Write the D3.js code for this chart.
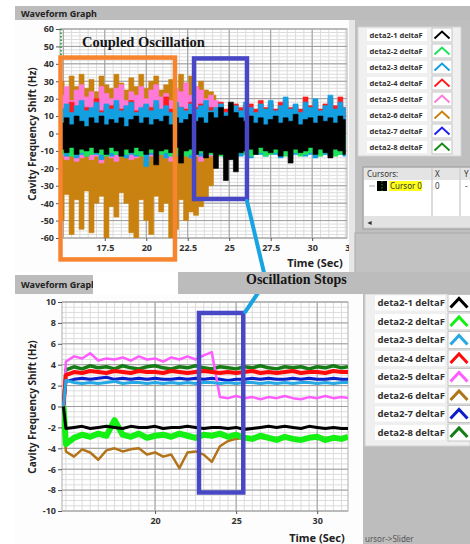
<!DOCTYPE html>
<html>
<head>
<meta charset="utf-8">
<script src="https://cdn.jsdelivr.net/npm/d3@7"></script>
<style>
  body { margin: 0; background: #fff; }
  svg { display: block; }
  text { font-family: "Noto Sans", sans-serif; }
</style>
</head>
<body>
<svg id="chart" width="470" height="544"></svg>
<script>
const legendNames = ["deta2-1 deltaF", "deta2-2 deltaF", "deta2-3 deltaF", "deta2-4 deltaF",
  "deta2-5 deltaF", "deta2-6 deltaF", "deta2-7 deltaF", "deta2-8 deltaF"];
const topColors = ["#000000", "#1ee35a", "#12a0e2", "#ff1c1c", "#ff7ad8", "#c9820f", "#2020f0", "#168c16"];
const botColors = ["#000000", "#14f014", "#26a8e4", "#ff0a0a", "#ff5cff", "#b2741a", "#0c1ec8", "#167c16"];

// upper graph: sample times and band envelopes (max / min of each trace)
const topTime = d3.range(14.9, 32.05, 0.3);
const topBlackHi = [6, 9, 5, 10, 7, 4, 9, 6, 10, 5, 8, 6, 9, 4, 8, 10, 6, 9, 5, 8, 7, 10, 5, 9, 6, 8, 11, 7, 9, 6,
  12, 9, 15, 10, 18, 12, 9, 7, 10, 6, 9, 5, 8, 10, 6, 9, 7, 11, 5, 8, 9, 6, 10, 7, 9, 6, 10, 8];
const topBlackLo = [-9, -11, -8, -12, -9, -10, -8, -11, -9, -12, -8, -10, -13, -9, -11, -8, -10, -12, -9, -18,
  -10, -9, -11, -8, -17, -10, -9, -12, -10, -14, -11, -20, -12, -27, -15, -22, -11, -10, -9, -12,
  -8, -10, -11, -9, -13, -10, -17, -9, -11, -10, -8, -12, -9, -11, -14, -9, -10, -12];
const topGreenLo = [-12, -11, -13, -12, -11, -13, -12, -11, -12, -13, -11, -12, -13, -12, -11, -12, -13, -12, -11, -12,
  -12, -11, -13, -12, -11, -13, -12, -12, -11, -13, -12, -11, -13, -12, -13, -12, -11, -12, -13, -12,
  -11, -13, -12, -11, -12, -13, -12, -11, -13, -12, -11, -12, -13, -11, -12, -13, -12, -11];
const topCyanHi = [14, 17, 12, 16, 19, 13, 15, 18, 12, 17, 14, 19, 13, 16, 18, 12, 15, 17, 13, 19,
  14, 16, 12, 18, 15, 13, 17, 14, 16, 19, 13, 15, 17, 12, 14, 16, 13, 18, 15, 12,
  17, 14, 19, 13, 16, 21, 14, 17, 12, 18, 15, 20, 13, 16, 22, 14, 18, 15];
const topCyanLo = [-12, -13, -12, -14, -12, -13, -12, -12, -15, -12, -13, -12, -12, -14, -12, -13, -12, -19, -12, -13,
  -12, -14, -12, -13, -12, -12, -14, -12, -13, -12, -12, -13, -12, -14, -12, -12, -13, -12, -14, -12,
  -12, -13, -12, -12, -14, -12, -13, -12, -12, -13, -12, -14, -12, -12, -13, -12, -12, -13];
const topRedHi = [13, 15, 18, 14, 16, 15, 14, 20, 13, 15, 16, 17, 14, 15, 19, 13, 14, 16, 15, 17,
  13, 21, 14, 16, 15, 14, 18, 15, 17, 16, 15, 14, 18, 14, 15, 17, 15, 16, 17, 14,
  19, 15, 17, 14, 18, 19, 15, 16, 14, 21, 16, 18, 14, 17, 20, 16, 21, 15];
const topPinkHi = [22, 27, 19, 25, 28, 21, 24, 18, 27, 23, 20, 26, 28, 19, 24, 22, 27, 20, 25, 28,
  21, 23, 19, 26, 24, 29, 22, 27, 25, 20, 22, 19, 18];
const topPinkLo = [-13, -15, -12, -16, -14, -12, -15, -13, -17, -12, -14, -16, -13, -12, -15, -14, -12, -16, -13, -15,
  -12, -14, -16, -13, -15, -12, -14, -13, -16, -12, -13, -12, -12];
const topBrownHi = [30, 25, 33, 27, 34, 26, 31, 24, 33, 28, 26, 34, 29, 25, 32, 27, 34, 26, 30, 33,
  25, 28, 31, 26, 34, 29, 33, 27, 30, 25, 24, 22];
const topBrownLo = [-50, -35, -58, -38, -55, -33, -57, -40, -36, -60, -42, -48, -34, -40, -57, -60, -38, -50, -58, -36,
  -45, -40, -60, -55, -38, -50, -45, -47, -42, -38, -30, -20];

// lower graph: sample times and trace values
const botTime = [14.35].concat(d3.range(14.5, 31.6, 0.5), [31.9]);
const bot1 = [0, -2.1, -2.0, -1.9, -2.1, -2.0, -1.9, -2.0, -2.1, -1.9, -2.0, -2.0, -1.9, -2.1, -2.0, -2.0, -1.9, -2.0, -2.1,
  -2.0, -2.0, -2.1, -2.0, -2.2, -2.1, -2.0, -1.9, -2.0, -1.9, -2.0, -2.1, -1.9, -2.0, -2.1, -2.0, -2.1, -2.1];
const bot2 = [0, -3.6, -3.0, -2.7, -2.9, -2.6, -2.8, -1.3, -2.7, -2.9, -2.6, -3.0, -2.8, -2.7, -2.9, -2.6, -2.8, -3.0, -2.7,
  -2.8, -2.6, -2.9, -2.7, -3.0, -3.1, -2.8, -3.0, -3.2, -2.9, -3.1, -3.2, -3.0, -2.9, -3.2, -3.0, -3.1, -2.9];
const bot3 = [0, 2.5, 2.3, 2.2, 2.3, 2.2, 2.3, 2.4, 2.2, 2.3, 2.3, 2.2, 2.3, 2.2, 2.3, 2.2, 2.3, 2.2, 2.3,
  2.3, 2.2, 2.3, 2.2, 2.3, 2.3, 2.2, 2.3, 2.2, 2.3, 2.2, 2.3, 2.3, 2.2, 2.3, 2.2, 2.3, 2.3];
const bot4 = [0, 3.0, 3.3, 3.2, 3.4, 3.3, 3.2, 3.4, 3.3, 3.2, 3.4, 3.3, 3.3, 3.2, 3.4, 3.3, 3.2, 3.3, 3.4,
  3.3, 3.2, 3.3, 3.2, 3.3, 3.4, 3.2, 3.3, 3.2, 3.3, 3.4, 3.2, 3.3, 3.3, 3.2, 3.4, 3.3, 3.3];
const bot5 = [0, 4.3, 4.8, 4.6, 5.1, 4.4, 4.6, 4.5, 4.7, 4.4, 4.8, 4.5, 4.6, 4.3, 4.7, 4.5, 4.8, 4.5, 4.9,
  5.2, 0.9, 0.8, 1.0, 0.8, 0.9, 0.7, 0.9, 0.8, 1.0, 0.8, 0.7, 0.9, 0.8, 1.0, 0.8, 0.9, 0.8];
const bot6 = [0, -4.3, -4.8, -4.1, -4.4, -5.1, -4.2, -4.0, -4.3, -4.1, -4.0, -4.6, -4.4, -4.8, -4.6, -5.9, -4.4, -4.3, -4.6,
  -5.3, -3.8, -3.3, -3.1, -3.0, -3.1, -3.0, -3.1, -3.0, -3.1, -3.0, -3.1, -3.0, -3.1, -3.0, -3.1, -3.0, -3.0];
const bot7 = [0, 2.4, 2.6, 2.7, 2.6, 2.7, 2.8, 2.6, 2.7, 2.6, 2.7, 2.6, 2.7, 2.6, 2.6, 2.7, 2.6, 2.7, 2.6,
  2.7, 2.6, 2.5, 2.6, 2.6, 2.7, 2.6, 2.7, 2.6, 2.6, 2.7, 2.6, 2.7, 2.6, 2.6, 2.7, 2.6, 2.6];
const bot8 = [0, 3.5, 3.8, 3.6, 3.9, 3.7, 3.8, 3.6, 3.9, 3.7, 3.6, 3.8, 3.9, 3.7, 3.6, 3.8, 3.7, 3.9, 3.7,
  3.6, 3.8, 3.7, 3.6, 3.8, 3.7, 3.9, 3.7, 3.6, 3.8, 3.7, 3.8, 3.6, 3.8, 3.7, 3.9, 3.7, 3.8];

const topYTicks = d3.range(-60, 61, 10);
const topXTicks = [17.5, 20, 22.5, 25, 27.5, 30, 32.5];
const botYTicks = d3.range(-10, 11, 2);
const botXTicks = [20, 25, 30];

// annotation boxes in data units
const coupledBox = { t0: 14.83, t1: 21.73, v0: -72.3, v1: 43.6 };
const topStopBox = { t0: 22.88, t1: 26.07, v0: -37.6, v1: 43.1 };
const botStopBox = { t0: 22.71, t1: 25.44, v0: -8.23, v1: 8.95 };

const svg = d3.select("#chart");
const FONT = "'Noto Sans', sans-serif";

const xTop = d3.scaleLinear().domain([14.8, 32.1]).range([60, 347]);
const yTop = d3.scaleLinear().domain([-60, 60]).range([238, 29]);
const xBot = d3.scaleLinear().domain([14.26, 31.9]).range([62, 348]);
const yBot = d3.scaleLinear().domain([-10, 10]).range([511, 302]);

// ---------- panel backgrounds ----------
svg.append("rect").attr("width", 470).attr("height", 544).attr("fill", "#fff");
svg.append("rect").attr("x", 15).attr("y", 6).attr("width", 455).attr("height", 14).attr("fill", "#bcbcbc");
svg.append("text").attr("x", 21).attr("y", 16.5).text("Waveform Graph")
  .attr("font-size", 9).attr("font-weight", 700).attr("fill", "#222");
svg.append("rect").attr("x", 355).attr("y", 20).attr("width", 115).attr("height", 252).attr("fill", "#bfbfbf");
svg.append("rect").attr("x", 15).attr("y", 20).attr("width", 340).attr("height", 252).attr("fill", "#fdfdfd");
svg.append("rect").attr("x", 349).attr("y", 20).attr("width", 6).attr("height", 252).attr("fill", "#e6e6e6");

svg.append("rect").attr("x", 15).attr("y", 294).attr("width", 348).attr("height", 250).attr("fill", "#fdfdfd");
svg.append("rect").attr("x", 363).attr("y", 294).attr("width", 107).attr("height", 250).attr("fill", "#bdbdbd");
svg.append("rect").attr("x", 365).attr("y", 294).attr("width", 105).attr("height", 152)
  .attr("fill", "#efefef").attr("stroke", "#d2d2d2");
svg.append("text").attr("x", 365).attr("y", 542).text("ursor->Slider")
  .attr("font-size", 8).attr("fill", "#555");

// ---------- grids ----------
function drawGrid(x, y, xMinor, yMinor, xMajor, yMajor) {
  const g = svg.append("g");
  const [x0, x1] = x.range();
  const [y0, y1] = y.range();
  g.append("rect").attr("x", x0).attr("y", y1).attr("width", x1 - x0).attr("height", y0 - y1).attr("fill", "#fff");
  g.selectAll(".mx").data(xMinor).join("line")
    .attr("x1", d => x(d)).attr("x2", d => x(d)).attr("y1", y1).attr("y2", y0)
    .attr("stroke", "#dcdcdc").attr("stroke-width", 1);
  g.selectAll(".my").data(yMinor).join("line")
    .attr("x1", x0).attr("x2", x1).attr("y1", d => y(d)).attr("y2", d => y(d))
    .attr("stroke", "#dcdcdc").attr("stroke-width", 1);
  g.selectAll(".Mx").data(xMajor).join("line")
    .attr("x1", d => x(d)).attr("x2", d => x(d)).attr("y1", y1).attr("y2", y0)
    .attr("stroke", "#9c9c9c").attr("stroke-width", 1);
  g.selectAll(".My").data(yMajor).join("line")
    .attr("x1", x0).attr("x2", x1).attr("y1", d => y(d)).attr("y2", d => y(d))
    .attr("stroke", "#9c9c9c").attr("stroke-width", 1);
  g.append("rect").attr("x", x0).attr("y", y1).attr("width", x1 - x0).attr("height", y0 - y1)
    .attr("fill", "none").attr("stroke", "#b0b0b0");
}
drawGrid(xTop, yTop, d3.range(15, 32.1, 0.5), d3.range(-60, 61, 2), [15, 17.5, 20, 22.5, 25, 27.5, 30], topYTicks);
drawGrid(xBot, yBot, d3.range(14.5, 32, 0.5), d3.range(-10, 10.1, 0.5), botXTicks, botYTicks);

function clip(id, x, y, w, h) {
  svg.append("clipPath").attr("id", id).append("rect")
    .attr("x", x).attr("y", y).attr("width", w).attr("height", h);
  return `url(#${id})`;
}

// ---------- upper graph traces ----------
const topBands = [
  { s: 5, hi: topBrownHi, lo: topBrownLo },
  { s: 4, hi: topPinkHi, lo: topPinkLo },
  { s: 3, hi: topRedHi, lo: null },
  { s: 2, hi: topCyanHi, lo: topCyanLo },
  { s: 1, hi: null, lo: topGreenLo },
  { s: 0, hi: topBlackHi, lo: topBlackLo }
];
const topPlot = svg.append("g").attr("clip-path", clip("clipTop", 60, 29, 287, 209));
topPlot.append("line").attr("x1", 61).attr("x2", 61).attr("y1", 29).attr("y2", 238)
  .attr("stroke", "#1a9a2a").attr("stroke-width", 1.6).attr("stroke-dasharray", "1.5,2");
const area = d3.area().curve(d3.curveStep)
  .x(d => xTop(d.t)).y0(d => yTop(d.lo)).y1(d => yTop(d.hi));
topBands.forEach(b => {
  const ref = b.hi || b.lo;
  const pts = ref.map((_, i) => ({ t: topTime[i], hi: b.hi ? b.hi[i] : 0, lo: b.lo ? b.lo[i] : 0 }));
  topPlot.append("path").datum(pts).attr("d", area).attr("fill", topColors[b.s])
    .attr("stroke", topColors[b.s]).attr("stroke-width", 0.6);
});

// ---------- lower graph traces ----------
const botSeries = [bot1, bot2, bot3, bot4, bot5, bot6, bot7, bot8];
const botWidth = [3, 6, 3, 4, 2.5, 2.5, 3, 3.5];
const botPlot = svg.append("g").attr("clip-path", clip("clipBot", 62, 302, 286, 209));
const line = d3.line().x((d, i) => xBot(botTime[i])).y(d => yBot(d));
[7, 6, 5, 4, 3, 2, 1, 0].forEach(s => {
  botPlot.append("path").datum(botSeries[s]).attr("d", line).attr("fill", "none")
    .attr("stroke", botColors[s]).attr("stroke-width", botWidth[s]).attr("stroke-linejoin", "round");
});

// ---------- axes ----------
function styleAxis(g) {
  g.attr("font-family", FONT).attr("font-size", 9).attr("font-weight", 700);
  g.select(".domain").remove();
  g.selectAll("line").attr("stroke", "#555");
  g.selectAll("text").attr("fill", "#333");
}
const plain = d => String(d);
svg.append("g").attr("transform", "translate(60,0)")
  .call(d3.axisLeft(yTop).tickValues(topYTicks).tickFormat(plain).tickSize(4).tickPadding(2)).call(styleAxis);
svg.append("g").attr("transform", "translate(0,238)").attr("clip-path", clip("clipTopX", 0, -5, 349, 30))
  .call(d3.axisBottom(xTop).tickValues(topXTicks).tickFormat(plain).tickSize(3).tickPadding(4)).call(styleAxis);
svg.append("g").attr("transform", "translate(62,0)")
  .call(d3.axisLeft(yBot).tickValues(botYTicks).tickFormat(plain).tickSize(4).tickPadding(2)).call(styleAxis);
svg.append("g").attr("transform", "translate(0,511)")
  .call(d3.axisBottom(xBot).tickValues(botXTicks).tickFormat(plain).tickSize(3).tickPadding(4)).call(styleAxis);

function axisTitles(cx, cy, tx, ty) {
  svg.append("text").attr("transform", `translate(${cx},${cy}) rotate(-90)`).attr("text-anchor", "middle")
    .attr("font-size", 10).attr("font-weight", 700).attr("fill", "#222").text("Cavity Frequency Shift (Hz)");
  svg.append("text").attr("x", tx).attr("y", ty).attr("text-anchor", "middle")
    .attr("font-size", 11).attr("font-weight", 700).attr("fill", "#222").text("Time (Sec)");
}
axisTitles(36, 134, 315, 267);
axisTitles(36, 407, 317, 542);

// ---------- legends ----------
function legend(x0, y0, step, boxW, boxH, swX, swW, swH, fs, sw, colors, chev) {
  legendNames.forEach((name, i) => {
    const c = y0 + i * step;
    svg.append("rect").attr("x", x0).attr("y", c - boxH / 2).attr("width", boxW).attr("height", boxH)
      .attr("fill", "#fff");
    svg.append("text").attr("x", x0 + 2.5).attr("y", c + fs * 0.36).text(name)
      .attr("font-size", fs).attr("font-weight", 700).attr("fill", "#333");
    svg.append("rect").attr("x", swX).attr("y", c - swH / 2).attr("width", swW).attr("height", swH)
      .attr("fill", "#fff").attr("stroke", "#c4c4c4");
    svg.append("polyline")
      .attr("points", `${swX + chev[0]},${c + chev[2]} ${swX + chev[1]},${c - chev[2]} ${swX + 2 * chev[1] - chev[0]},${c + chev[2]}`)
      .attr("fill", "none").attr("stroke", colors[i]).attr("stroke-width", sw);
  });
}
svg.append("rect").attr("x", 358).attr("y", 27).attr("width", 103).attr("height", 129)
  .attr("fill", "#f0f0f0").attr("stroke", "#d4d4d4");
legend(367, 35, 16, 60, 12, 432, 20, 14, 7.5, 2, topColors, [2.5, 10, 3.5]);
legend(375, 303, 18.5, 70, 15, 448, 24, 17, 9.5, 3, botColors, [2.5, 11, 4.5]);

// ---------- cursor panel ----------
const cur = svg.append("g").attr("font-family", FONT).attr("font-size", 8).attr("fill", "#333");
cur.append("rect").attr("x", 363).attr("y", 167).attr("width", 110).attr("height", 62)
  .attr("fill", "#d6d6d6").attr("stroke", "#9a9a9a");
cur.append("rect").attr("x", 364).attr("y", 168).attr("width", 108).attr("height", 12).attr("fill", "#e4e4e4");
cur.append("rect").attr("x", 364).attr("y", 180).attr("width", 108).attr("height", 36).attr("fill", "#fff");
[432, 460].forEach(x => cur.append("line").attr("x1", x).attr("x2", x).attr("y1", 168).attr("y2", 216)
  .attr("stroke", "#d0d0d0").attr("stroke-width", 1.5));
cur.append("text").attr("x", 367).attr("y", 177).text("Cursors:");
cur.append("text").attr("x", 435).attr("y", 177).text("X");
cur.append("text").attr("x", 464).attr("y", 177).text("Y");
cur.append("line").attr("x1", 369).attr("x2", 375).attr("y1", 186).attr("y2", 186).attr("stroke", "#aaa");
cur.append("rect").attr("x", 377).attr("y", 181).attr("width", 10).attr("height", 10).attr("fill", "#000");
cur.append("line").attr("x1", 382).attr("x2", 382).attr("y1", 181).attr("y2", 191)
  .attr("stroke", "#1c9c1c").attr("stroke-dasharray", "1.5,1.5");
cur.append("rect").attr("x", 389).attr("y", 181).attr("width", 33).attr("height", 10).attr("fill", "#ffff1a");
cur.append("text").attr("x", 390).attr("y", 189).text("Cursor 0");
cur.append("text").attr("x", 435).attr("y", 189).text("0");
cur.append("text").attr("x", 465).attr("y", 189).text("-");
cur.append("rect").attr("x", 364).attr("y", 216).attr("width", 108).attr("height", 11).attr("fill", "#e2e2e2");
cur.append("text").attr("x", 366).attr("y", 225).attr("font-size", 7).text("◄");
svg.append("rect").attr("x", 355).attr("y", 233).attr("width", 116).attr("height", 40)
  .attr("fill", "#c2c2c2").attr("stroke", "#a9a9a9");

// ---------- annotations ----------
function box(b, x, y, color) {
  svg.append("rect").attr("x", x(b.t0)).attr("y", y(b.v1))
    .attr("width", x(b.t1) - x(b.t0)).attr("height", y(b.v0) - y(b.v1))
    .attr("fill", "none").attr("stroke", color).attr("stroke-width", 4.5);
}
box(coupledBox, xTop, yTop, "#f7842f");
box(topStopBox, xTop, yTop, "#4848c6");
box(botStopBox, xBot, yBot, "#4848c6");

svg.append("polyline")
  .attr("points", `${xTop(topStopBox.t1)},${yTop(topStopBox.v0) + 2} 266,281 ${xBot(botStopBox.t1) + 2},${yBot(botStopBox.v1) - 1}`)
  .attr("fill", "none").attr("stroke", "#18a3e2").attr("stroke-width", 4).attr("stroke-linecap", "round");

svg.append("rect").attr("x", 15).attr("y", 275).attr("width", 78).attr("height", 19).attr("fill", "#bcbcbc");
svg.append("text").attr("x", 21).attr("y", 288).text("Waveform Graph")
  .attr("clip-path", clip("clipTitle", 15, 270, 78, 30))
  .attr("font-size", 9).attr("font-weight", 700).attr("fill", "#222");
svg.append("rect").attr("x", 178).attr("y", 272).attr("width", 292).attr("height", 22).attr("fill", "#bcbcbc");

svg.append("text").attr("x", 82).attr("y", 46.5).text("Coupled Oscillation")
  .style("font-family", "'Liberation Serif', serif").attr("font-size", 14.5).attr("font-weight", 700).attr("fill", "#151515");
svg.append("text").attr("x", 246).attr("y", 284).text("Oscillation Stops")
  .style("font-family", "'Liberation Serif', serif").attr("font-size", 14).attr("font-weight", 700).attr("fill", "#151515");
</script>
</body>
</html>
